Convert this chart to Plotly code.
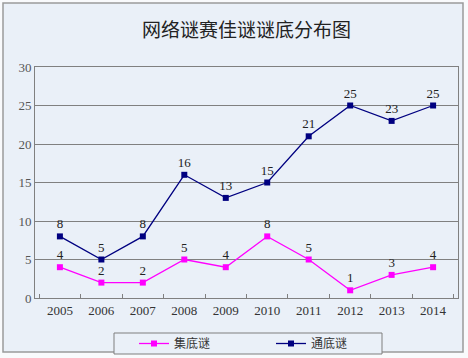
import plotly.graph_objects as go

years = ["2005", "2006", "2007", "2008", "2009", "2010", "2011", "2012", "2013", "2014"]
ji_di_mi = [4, 2, 2, 5, 4, 8, 5, 1, 3, 4]
tong_di_mi = [8, 5, 8, 16, 13, 15, 21, 25, 23, 25]
y_ticks = [0, 5, 10, 15, 20, 25, 30]

W, H = 468, 358
L, R, T, B = 35, 10, 67, 60
pw, ph = W - L - R, H - T - B

def px2x(p):
    return (p - L) / pw

def py2y(p):
    return (H - B - p) / ph

fig = go.Figure()
fig.add_trace(go.Scatter(
    x=years, y=ji_di_mi, name="集底谜", mode="lines+markers+text",
    line=dict(color="#FF00FF", width=1.3),
    marker=dict(symbol="square", size=6, color="#FF00FF"),
    text=[str(v) for v in ji_di_mi], textposition="top center",
    textfont=dict(family="Liberation Serif", size=13, color="#222222"),
))
fig.add_trace(go.Scatter(
    x=years, y=tong_di_mi, name="通底谜", mode="lines+markers+text",
    line=dict(color="#000080", width=1.3),
    marker=dict(symbol="square", size=6, color="#000080"),
    text=[str(v) for v in tong_di_mi], textposition="top center",
    textfont=dict(family="Liberation Serif", size=13, color="#222222"),
))

fig.update_layout(
    width=W, height=H,
    margin=dict(l=L, r=R, t=T, b=B, autoexpand=False),
    paper_bgcolor="#F9FAFC",
    plot_bgcolor="#C0C0C0",
    title=dict(text="网络谜赛佳谜谜底分布图", x=0.5, xref="paper", y=1 - 30 / H, yanchor="middle",
               font=dict(family="Noto Sans CJK SC", size=19, color="#222222")),
    showlegend=True,
    legend=dict(orientation="h", x=px2x(134), xanchor="left", yref="container", y=1 - 343.5 / H,
                yanchor="middle", bgcolor="rgba(0,0,0,0)", borderwidth=0,
                entrywidth=92, font=dict(family="Noto Sans CJK SC", size=12, color="#333333")),
    xaxis=dict(type="category", tickfont=dict(family="Liberation Serif", size=13, color="#333333"),
               showgrid=False, showline=True, linecolor="#808080", mirror=True, automargin=False,
               ticks="inside", ticklen=4, tickcolor="#808080", tickson="boundaries"),
    yaxis=dict(range=[0, 30], tickvals=y_ticks, tickfont=dict(family="Liberation Serif", size=13, color="#555555"),
               showgrid=True, gridcolor="#808080", gridwidth=1, zeroline=False, automargin=False,
               showline=True, linecolor="#808080", mirror=True),
    shapes=[
        dict(type="rect", xref="paper", yref="paper",
             x0=px2x(3), x1=px2x(463), y0=py2y(352), y1=py2y(3),
             line=dict(color="#9A9A9A", width=1.5), fillcolor="#EAF0F8", layer="below"),
        dict(type="rect", xref="paper", yref="paper",
             x0=px2x(114), x1=px2x(382), y0=py2y(354), y1=py2y(333),
             line=dict(color="#7F7F7F", width=1), fillcolor="#EAF0F8", layer="below"),
    ],
)

fig.write_html("out.html", config={"displayModeBar": False},
               post_script="document.body.style.margin='0';document.body.style.overflow='hidden';")
